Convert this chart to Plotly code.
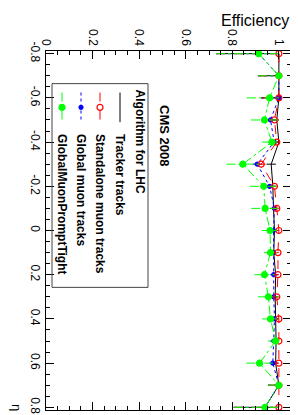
import plotly.graph_objects as go

# ---------------- data ----------------
eta = [-0.8, -0.7, -0.6, -0.5, -0.4, -0.3, -0.2, -0.1, 0.0,
       0.1, 0.2, 0.3, 0.4, 0.5, 0.6, 0.7, 0.8]

eff_tracker = [1.0, 1.0, 1.0, 0.991, 1.0, 0.967, 0.974, 0.977, 0.981,
               0.978, 0.986, 0.984, 0.986, 0.988, 0.986, 1.0, 0.94]
err_tracker = [0.27, 0.09, 0.077, 0.015, 0.015, 0.02, 0.015, 0.015, 0.012,
               0.012, 0.012, 0.012, 0.012, 0.012, 0.012, 0.047, 0.134]

eff_standalone = [1.0, 1.0, 1.0, 0.981, 0.991, 0.924, 0.981, 0.991, 1.0,
                  0.996, 0.996, 0.991, 1.0, 1.0, 1.0, 1.0, 1.0]
err_standalone = [0.27, 0.09, 0.077, 0.02, 0.015, 0.02, 0.015, 0.015, 0.015,
                  0.015, 0.015, 0.015, 0.015, 0.012, 0.015, 0.047, 0.194]

eff_global = [0.913, 1.0, 1.0, 0.964, 0.98, 0.907, 0.96, 0.981, 0.977,
              0.977, 0.978, 0.978, 0.981, 0.978, 0.974, 1.0, 0.94]
err_global = [0.183, 0.09, 0.077, 0.02, 0.015, 0.02, 0.015, 0.015, 0.015,
              0.015, 0.015, 0.015, 0.015, 0.015, 0.015, 0.047, 0.134]

eff_gmpt = [0.913, 1.0, 0.96, 0.938, 0.970, 0.845, 0.935, 0.941, 0.962,
            0.964, 0.938, 0.955, 0.964, 0.986, 0.917, 1.0, 0.94]
err_gmpt = [0.183, 0.09, 0.098, 0.058, 0.042, 0.07, 0.06, 0.06, 0.035,
            0.028, 0.043, 0.045, 0.036, 0.033, 0.057, 0.047, 0.134]

series_names = ["Tracker tracks", "Standalone muon tracks",
                "Global muon tracks", "GlobalMuonPromptTight"]
legend_title = "Algorithm for LHC"
label_text = "CMS 2008"
x_title = "Efficiency"
y_title = "η"

x_tickvals = [0, 0.2, 0.4, 0.6, 0.8, 1.0]
x_ticktext = ["0", "0.2", "0.4", "0.6", "0.8", "1"]
y_tickvals = [-0.8, -0.6, -0.4, -0.2, 0.0, 0.2, 0.4, 0.6, 0.8]
y_ticktext = ["-0.8", "-0.6", "-0.4", "-0.2", "0", "0.2", "0.4", "0.6", "0.8"]

# ---------------- layout helpers ----------------
W, H = 298, 415
ML, MR, MT, MB = 38, 15, 43, 9
PW, PH = W - ML - MR, H - MT - MB
FONT = "Liberation Sans, Arial, Helvetica, sans-serif"


def fx(px):
    return (px - ML) / PW


def fy(py):
    return 1 - (py - MT) / PH


styles = [
    dict(color="#000000", dash="solid", symbol="circle", size=0),
    dict(color="#ff0000", dash="dash", symbol="circle-open", size=6),
    dict(color="#0000ff", dash="dot", symbol="circle", size=4),
    dict(color="#00ff00", dash="dashdot", symbol="circle", size=6),
]
vals_all = [eff_tracker, eff_standalone, eff_global, eff_gmpt]
errs_all = [err_tracker, err_standalone, err_global, err_gmpt]

fig = go.Figure()
order = [0, 2, 1, 3]
for i in order:
    st = styles[i]
    vals, errs = vals_all[i], errs_all[i]
    # error bars drawn in the series' own line style (as ROOT does)
    bx, by = [], []
    for v, e, y in zip(vals, errs, eta):
        bx += [v - e, min(1.0, v + e), None]
        by += [y, y, None]
    fig.add_trace(go.Scatter(
        x=bx, y=by, mode="lines", line=dict(color=st["color"], width=1, dash=st["dash"]),
        showlegend=False, hoverinfo="skip", cliponaxis=False, connectgaps=False))
    fig.add_trace(go.Scatter(
        x=vals, y=eta, mode="lines" if st["size"] == 0 else "lines+markers",
        name=series_names[i],
        line=dict(color=st["color"], width=1, dash=st["dash"]),
        marker=dict(symbol=st["symbol"], size=max(st["size"], 1), color=st["color"],
                    line=dict(color=st["color"], width=1.2)),
        showlegend=False, cliponaxis=False,
    ))

# legend samples (in paper-like overlay axes)
legend_cols = [112, 92, 73, 54]
for i, cx in enumerate(legend_cols):
    st = styles[i]
    fig.add_trace(go.Scatter(
        x=[fx(cx), fx(cx)], y=[fy(85), fy(115)], mode="lines",
        line=dict(color=st["color"], width=1, dash=st["dash"]),
        xaxis="x2", yaxis="y2", showlegend=False, hoverinfo="skip"))
    if st["size"] > 0:
        fig.add_trace(go.Scatter(
            x=[fx(cx)], y=[fy(100)], mode="markers",
            marker=dict(symbol=st["symbol"], size=st["size"], color=st["color"],
                        line=dict(color=st["color"], width=1.2)),
            xaxis="x2", yaxis="y2", showlegend=False, hoverinfo="skip"))

annotations = []
annotations.append(dict(text="<b>%s</b>" % legend_title, x=fx(132), y=fy(80),
                        xref="paper", yref="paper", xanchor="center", yanchor="top",
                        textangle=90, showarrow=False, font=dict(size=12, family=FONT, color="black")))
for name, cx in zip(series_names, legend_cols):
    annotations.append(dict(text="<b>%s</b>" % name, x=fx(cx), y=fy(125),
                            xref="paper", yref="paper", xanchor="center", yanchor="top",
                            textangle=90, showarrow=False,
                            font=dict(size=12, family=FONT, color="black")))
annotations.append(dict(text="<b>%s</b>" % label_text, x=fx(157), y=fy(128),
                        xref="paper", yref="paper", xanchor="center", yanchor="middle",
                        textangle=90, showarrow=False, font=dict(size=13, family=FONT, color="black")))
annotations.append(dict(text=x_title, x=1.0, y=fy(12), xref="paper", yref="paper",
                        xanchor="right", yanchor="middle", showarrow=False,
                        font=dict(size=16, family=FONT, color="black")))
annotations.append(dict(text=y_title, x=fx(9), y=fy(403), xref="paper", yref="paper",
                        xanchor="center", yanchor="middle", textangle=90, showarrow=False,
                        font=dict(size=13, family=FONT, color="black")))

shapes = [dict(type="rect", xref="paper", yref="paper",
               x0=fx(44), x1=fx(140), y0=fy(282), y1=fy(76),
               line=dict(color="#444444", width=1), fillcolor="rgba(0,0,0,0)", layer="above")]

axis_common = dict(ticks="inside", ticklen=8, tickcolor="black", tickwidth=1,
                   showline=True, linecolor="black", linewidth=1, mirror="allticks",
                   showgrid=False, zeroline=False, tickangle=90,
                   tickfont=dict(size=12, family=FONT, color="black"),
                   minor=dict(ticks="inside", dtick=0.05, ticklen=4, tickcolor="black",
                              tickwidth=1, showgrid=False))

fig.update_layout(
    width=W, height=H, margin=dict(l=ML, r=MR, t=MT, b=MB, pad=0),
    paper_bgcolor="white", plot_bgcolor="white",
    font=dict(family=FONT, color="black"),
    xaxis=dict(range=[0, 1.052], side="top", tickvals=x_tickvals, ticktext=x_ticktext,
               tick0=0, **axis_common),
    yaxis=dict(range=[0.812, -0.812], tickvals=y_tickvals, ticktext=y_ticktext,
               tick0=0, **axis_common),
    xaxis2=dict(overlaying="x", range=[0, 1], visible=False, fixedrange=True),
    yaxis2=dict(overlaying="y", range=[0, 1], visible=False, fixedrange=True),
    annotations=annotations, shapes=shapes, showlegend=False,
)

fig.write_html("out.html", include_plotlyjs=True, config={"displayModeBar": False})
